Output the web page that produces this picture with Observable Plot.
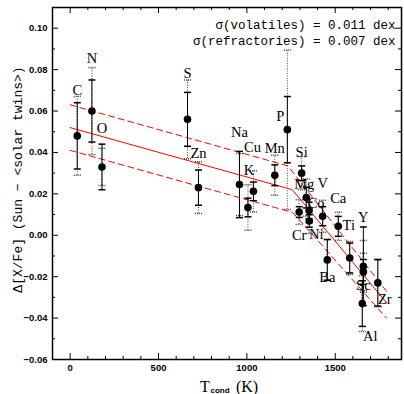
<!DOCTYPE html>
<html><head><meta charset="utf-8">
<script src="https://cdn.jsdelivr.net/npm/d3@7"></script>
<script src="https://cdn.jsdelivr.net/npm/@observablehq/plot@0.6"></script>
<style>body{margin:0;background:#fff} #chart svg{display:block}</style>
</head><body><div id="chart"></div>
<script>
// ---- data ----
const elements = ["C","N","O","S","Zn","Na","K","Cu","Mn","P","Si","Mg","Cr","Co","Ni","V","Ca","Ti","Ba","Y","Sc","Al","Zr"];
const tcond    = [40,123,180,664,726,958,1006,1037,1158,1229,1310,1336,1296,1352,1353,1429,1517,1582,1455,1659,1659,1653,1741];
const delta    = [0.048,0.060,0.033,0.056,0.023,0.0245,0.0134,0.0212,0.029,0.051,0.030,0.0182,0.0112,0.012,0.0069,0.0092,0.0043,-0.011,-0.0119,-0.015,-0.0177,-0.033,-0.023];
const errSolid = [0.016,0.015,0.011,0.013,0.0085,0.016,0.0045,0.0045,0.005,0.016,0.0035,0.005,0.0026,0.004,0.003,0.0046,0.0048,0.0072,0.0098,0.019,0.006,0.011,0.0112];
const errDotted= [0.019,0.021,0.009,0.019,0.0125,0.015,0.011,0.010,0.0097,0.0385,0.008,0.009,0.006,0.006,0.006,0.0077,0.0068,0.008,0.010,0.0125,0.009,0.0135,0.0115];

const fitT   = [0, 1257, 1790];
const fitV   = [0.052, 0.022, -0.0325];
const upperT = [0, 1232, 1790];
const upperV = [0.063, 0.0335, -0.027];
const lowerT = [0, 1260, 1790];
const lowerV = [0.041, 0.011, -0.040];

const xMajor = [0, 500, 1000, 1500];
const xMinor = [100,200,300,400,600,700,800,900,1100,1200,1300,1400,1600,1700,1800];
const yMajor = [-0.06,-0.04,-0.02,0.00,0.02,0.04,0.06,0.08,0.10];
const yMinor = [-0.05,-0.03,-0.01,0.01,0.03,0.05,0.07,0.09];

const sigmaLines = ["σ(volatiles) = 0.011 dex", "σ(refractories) = 0.007 dex"];
const yLabel = "Δ[X/Fe] (Sun − <solar twins>)";

// ---- layout ----
const W = 404, H = 394;
const mL = 52, mR = 3, mT = 7, mB = 35;
const fw = W - mL - mR, fh = H - mT - mB;

const rows = elements.map((el, i) => ({el, T: tcond[i], v: delta[i], s: errSolid[i], d: errDotted[i]}));
const toPts = (ts, vs) => ts.map((t, i) => ({t, v: vs[i]}));

const labelOffset = {
  C:[0,-46], N:[0,-53], O:[0,-39], S:[0,-46], Zn:[0,-34], Na:[0,-52], K:[1,-37], Cu:[-1,-44],
  Mn:[0,-27], P:[-7,-13], Si:[0,-21], Mg:[-2,-13], Cr:[0,23], Co:[7,-7], Ni:[7,13], V:[0,-33],
  Ca:[0,-28], Ti:[-1,-33], Ba:[0,17], Y:[0,-49], Sc:[0,13], Al:[8,33], Zr:[7,16]
};

const hbar = {draw(ctx, size){ const r = Math.sqrt(size/Math.PI); ctx.moveTo(-r,0); ctx.lineTo(r,0); }};
const fmtY = d3.format(".2f");
const tickFont = {fontFamily:"Liberation Sans, Arial, sans-serif", fontWeight:"bold", fontSize:9.5, fill:"black"};
const serif = "Liberation Serif, Times New Roman, serif";
const mono = "Liberation Mono, Courier New, monospace";

const chart = Plot.plot({
  width: W, height: H,
  marginLeft: mL, marginRight: mR, marginTop: mT, marginBottom: mB,
  x: {domain: [-100, 1875], axis: null},
  y: {domain: [-0.06, 0.11], axis: null},
  style: {background: "white", color: "black"},
  marks: [
    // ticks (inward, all four sides)
    Plot.tickY(yMajor, {y: d => d, insetRight: fw - 6, stroke: "black"}),
    Plot.tickY(yMinor, {y: d => d, insetRight: fw - 3, stroke: "black"}),
    Plot.tickY(yMajor, {y: d => d, insetLeft: fw - 6, stroke: "black"}),
    Plot.tickY(yMinor, {y: d => d, insetLeft: fw - 3, stroke: "black"}),
    Plot.tickX(xMajor, {x: d => d, insetTop: fh - 6, stroke: "black"}),
    Plot.tickX(xMinor, {x: d => d, insetTop: fh - 3, stroke: "black"}),
    Plot.tickX(xMajor, {x: d => d, insetBottom: fh - 6, stroke: "black"}),
    Plot.tickX(xMinor, {x: d => d, insetBottom: fh - 3, stroke: "black"}),
    // tick labels
    Plot.text(yMajor, {y: d => d, frameAnchor: "left", text: d => fmtY(d), textAnchor: "end", lineAnchor: "middle", dx: -5, ...tickFont}),
    Plot.text(xMajor, {x: d => d, frameAnchor: "bottom", text: d => String(d), textAnchor: "middle", lineAnchor: "middle", dy: 8, ...tickFont}),
    // fit lines
    Plot.line(toPts(fitT, fitV), {x: "t", y: "v", stroke: "#ff0000", strokeWidth: 1}),
    Plot.line(toPts(upperT, upperV), {x: "t", y: "v", stroke: "#ff0000", strokeWidth: 1, strokeDasharray: "6,4"}),
    Plot.line(toPts(lowerT, lowerV), {x: "t", y: "v", stroke: "#ff0000", strokeWidth: 1, strokeDasharray: "6,4"}),
    // dotted error bars
    Plot.ruleX(rows, {x: "T", y1: d => d.v - d.d, y2: d => d.v + d.d, stroke: "#444", strokeWidth: 1, strokeDasharray: "1,1.5"}),
    Plot.dot(rows, {x: "T", y: d => d.v + d.d, symbol: hbar, r: 3.5, stroke: "#444", fill: "none", strokeDasharray: "1,1"}),
    Plot.dot(rows, {x: "T", y: d => d.v - d.d, symbol: hbar, r: 3.5, stroke: "#444", fill: "none", strokeDasharray: "1,1"}),
    // solid error bars
    Plot.ruleX(rows, {x: "T", y1: d => d.v - d.s, y2: d => d.v + d.s, stroke: "black", strokeWidth: 1}),
    Plot.dot(rows, {x: "T", y: d => d.v + d.s, symbol: hbar, r: 3.5, stroke: "black", fill: "none"}),
    Plot.dot(rows, {x: "T", y: d => d.v - d.s, symbol: hbar, r: 3.5, stroke: "black", fill: "none"}),
    // points
    Plot.dot(rows, {x: "T", y: "v", r: 3.8, fill: "black", stroke: "none"}),
    // element labels
    ...rows.map(r => Plot.text([r], {x: "T", y: "v", text: "el", dx: labelOffset[r.el][0], dy: labelOffset[r.el][1],
      fontFamily: serif, fontSize: 14.5, fill: "black"})),
    // sigma annotations
    Plot.text([sigmaLines[0]], {frameAnchor: "top-right", text: d => d, textAnchor: "end", lineAnchor: "middle", dx: -6, dy: 17, fontFamily: mono, fontSize: 12.5, fill: "black"}),
    Plot.text([sigmaLines[1]], {frameAnchor: "top-right", text: d => d, textAnchor: "end", lineAnchor: "middle", dx: -6, dy: 33, fontFamily: mono, fontSize: 12.5, fill: "black"}),
    // axis titles
    Plot.text([yLabel], {frameAnchor: "left", text: d => d, rotate: -90, textAnchor: "middle", lineAnchor: "middle", dx: -35, dy: -4, fontFamily: mono, fontSize: 13, fill: "black"}),
    Plot.text(["T"], {frameAnchor: "bottom", text: d => d, textAnchor: "middle", lineAnchor: "middle", dx: -22, dy: 27, fontFamily: serif, fontSize: 16, fill: "black"}),
    Plot.text(["cond"], {frameAnchor: "bottom", text: d => d, textAnchor: "middle", lineAnchor: "middle", dx: -7, dy: 31, fontFamily: "Liberation Sans, Arial, sans-serif", fontWeight: "bold", fontSize: 8, fill: "black"}),
    Plot.text(["(K)"], {frameAnchor: "bottom", text: d => d, textAnchor: "middle", lineAnchor: "middle", dx: 20, dy: 27, fontFamily: serif, fontSize: 16, fill: "black"}),
    Plot.frame({stroke: "black", strokeWidth: 1.5})
  ]
});
document.getElementById("chart").append(chart);
</script>
</body></html>
